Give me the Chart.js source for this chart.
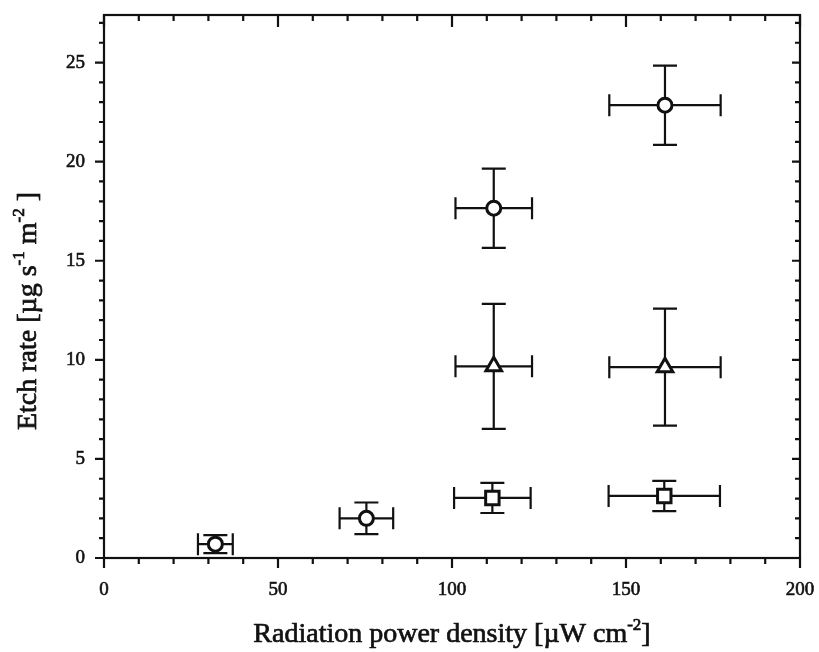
<!DOCTYPE html>
<html>
<head>
<meta charset="utf-8">
<script src="https://cdn.jsdelivr.net/npm/chart.js@4.4.1/dist/chart.umd.min.js"></script>
<style>
  html, body { margin: 0; padding: 0; background: #fff; }
  #wrap { width: 819px; height: 652px; }
</style>
</head>
<body>
<div id="wrap"><canvas id="grafico"></canvas></div>
<script>
// pontos medidos (x = densidade de potencia, y = taxa de ataque)
const circX = [32, 75.4, 112, 161.2];
const circY = [0.7, 2.0, 17.65, 22.85];
const circXErr = [5, 7.7, 11, 16];
const circYErr = [0.45, 0.8, 2.0, 2.0];

const triX = [112, 161.2];
const triY = [9.67, 9.63];
const triXErr = [11, 16];
const triYErr = [3.15, 2.95];

const quadX = [111.6, 161];
const quadY = [3.03, 3.13];
const quadXErr = [11, 16];
const quadYErr = [0.76, 0.76];

const xTicks = [0, 50, 100, 150, 200];
const yTicks = [0, 5, 10, 15, 20, 25];

const series = [
  { x: circX, y: circY, xErr: circXErr, yErr: circYErr, estilo: "circle", raio: 7 },
  { x: triX, y: triY, xErr: triXErr, yErr: triYErr, estilo: "triangle", raio: 9 },
  { x: quadX, y: quadY, xErr: quadXErr, yErr: quadYErr, estilo: "rect", raio: 9.5 }
];

const FONTE = "'Liberation Serif', 'Times New Roman', serif";
const TINTA = "#111";

// texto centrado em 0 com expoentes elevados
function desenhaTexto(ctx, partes, tamanho) {
  const fonteN = `${tamanho}px ${FONTE}`;
  const fonteS = `${Math.round(tamanho * 0.6)}px ${FONTE}`;
  let total = 0;
  partes.forEach(p => {
    ctx.font = p.sup ? fonteS : fonteN;
    p.w = ctx.measureText(p.t).width;
    total += p.w;
  });
  let x = -total / 2;
  partes.forEach(p => {
    ctx.font = p.sup ? fonteS : fonteN;
    const y = p.sup ? -tamanho * 0.42 : 0;
    ctx.strokeText(p.t, x, y);
    ctx.fillText(p.t, x, y);
    x += p.w;
  });
}

const molduraPlugin = {
  id: "moldura",
  beforeDatasetsDraw(chart) {
    const { ctx, scales } = chart;
    const sx = scales.x, sy = scales.y;
    ctx.save();
    ctx.strokeStyle = TINTA;
    ctx.lineWidth = 2.2;
    series.forEach(s => {
      s.x.forEach((vx, i) => {
        const px = sx.getPixelForValue(vx);
        const py = sy.getPixelForValue(s.y[i]);
        const x0 = sx.getPixelForValue(vx - s.xErr[i]);
        const x1 = sx.getPixelForValue(vx + s.xErr[i]);
        const y0 = sy.getPixelForValue(s.y[i] - s.yErr[i]);
        const y1 = sy.getPixelForValue(s.y[i] + s.yErr[i]);
        ctx.beginPath();
        ctx.moveTo(x0, py); ctx.lineTo(x1, py);
        ctx.moveTo(x0, py - 11); ctx.lineTo(x0, py + 11);
        ctx.moveTo(x1, py - 11); ctx.lineTo(x1, py + 11);
        ctx.moveTo(px, y0); ctx.lineTo(px, y1);
        ctx.moveTo(px - 12, y0); ctx.lineTo(px + 12, y0);
        ctx.moveTo(px - 12, y1); ctx.lineTo(px + 12, y1);
        ctx.stroke();
      });
    });
    ctx.restore();
  },
  afterDraw(chart) {
    const { ctx, chartArea: a, scales } = chart;
    const sx = scales.x, sy = scales.y;
    ctx.save();
    ctx.strokeStyle = TINTA;
    ctx.lineWidth = 2.2;
    ctx.strokeRect(a.left, a.top, a.right - a.left, a.bottom - a.top);

    // marcas maiores e menores nos quatro lados
    ctx.beginPath();
    for (let v = sx.min; v <= sx.max; v += 10) {
      const p = sx.getPixelForValue(v);
      const maior = v % 50 === 0;
      ctx.moveTo(p, a.bottom); ctx.lineTo(p, a.bottom + (maior ? 10 : 6));
      ctx.moveTo(p, a.top); ctx.lineTo(p, a.top + (maior ? 12 : 6));
    }
    for (let v = 0; v <= sy.max; v += 1) {
      const p = sy.getPixelForValue(v);
      const maior = v % 5 === 0;
      ctx.moveTo(a.left, p); ctx.lineTo(a.left - (maior ? 9 : 5), p);
      ctx.moveTo(a.right, p); ctx.lineTo(a.right - (maior ? 8 : 5), p);
    }
    ctx.stroke();

    ctx.fillStyle = TINTA;
    ctx.lineWidth = 0.7;
    ctx.textBaseline = "alphabetic";
    ctx.textAlign = "left";

    ctx.save();
    ctx.translate((a.left + a.right) / 2, 642);
    desenhaTexto(ctx, [
      { t: "Radiation power density [\u00b5W cm" },
      { t: "-2", sup: true },
      { t: "]" }
    ], 28);
    ctx.restore();

    ctx.save();
    ctx.translate(36, 311);
    ctx.rotate(-Math.PI / 2);
    desenhaTexto(ctx, [
      { t: "Etch rate [\u00b5g s" },
      { t: "-1", sup: true },
      { t: " m" },
      { t: "-2", sup: true },
      { t: " ]" }
    ], 28);
    ctx.restore();

    ctx.restore();
  }
};

const datasets = series.map(s => ({
  data: s.x.map((vx, i) => ({ x: vx, y: s.y[i] })),
  pointStyle: s.estilo,
  pointRadius: s.raio,
  pointHoverRadius: s.raio,
  pointBackgroundColor: "#fff",
  pointBorderColor: TINTA,
  pointBorderWidth: 3,
  showLine: false
}));

const fonteTicks = { family: FONTE, size: 19 };

new Chart(document.getElementById("grafico"), {
  type: "scatter",
  data: { datasets },
  plugins: [molduraPlugin],
  options: {
    responsive: true,
    maintainAspectRatio: false,
    animation: false,
    layout: { padding: { top: 15, right: 19, left: 0, bottom: 0 } },
    plugins: { legend: { display: false }, tooltip: { enabled: false } },
    scales: {
      x: {
        type: "linear",
        min: 0,
        max: 200,
        afterFit: s => { s.height = 94; s.paddingLeft = 0; s.paddingRight = 0; },
        afterBuildTicks: s => { s.ticks = xTicks.map(v => ({ value: v })); },
        grid: { display: false, drawTicks: false },
        border: { display: false },
        ticks: {
          color: TINTA, padding: 21, maxRotation: 0, font: fonteTicks,
          textStrokeColor: TINTA, textStrokeWidth: 0.6
        }
      },
      y: {
        type: "linear",
        min: 0,
        max: 27.4,
        afterFit: s => { s.width = 104; s.paddingTop = 0; s.paddingBottom = 0; },
        afterBuildTicks: s => { s.ticks = yTicks.map(v => ({ value: v })); },
        grid: { display: false, drawTicks: false },
        border: { display: false },
        ticks: {
          color: TINTA, padding: 19, font: fonteTicks,
          textStrokeColor: TINTA, textStrokeWidth: 0.6
        }
      }
    }
  }
});
</script>
</body>
</html>
